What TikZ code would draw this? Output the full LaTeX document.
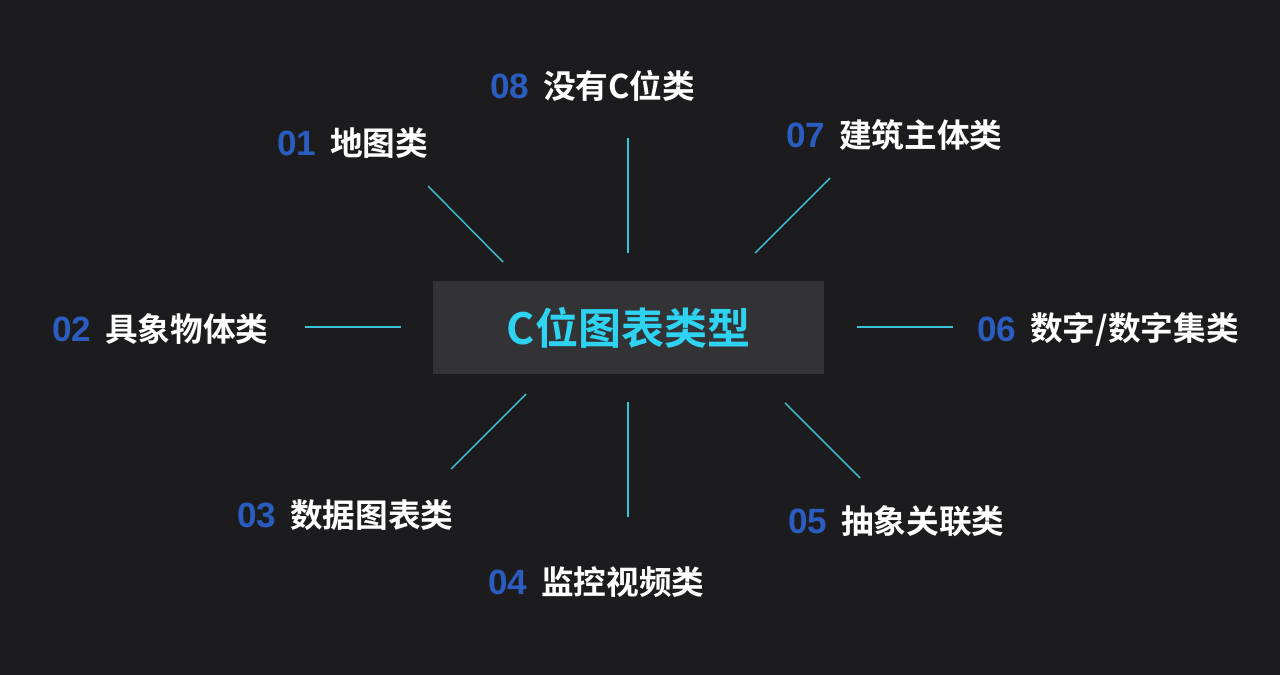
\documentclass[tikz,border=0pt]{standalone}
\usepackage{fontspec}
\setmainfont{Noto Sans CJK SC}[BoldFont={* Bold}]
\newfontfamily\numfont{Liberation Sans}
\usetikzlibrary{positioning}
\definecolor{bgdark}{HTML}{1C1C1E}
\definecolor{boxgray}{HTML}{333336}
\definecolor{titlecyan}{HTML}{2FD3F2}
\definecolor{numblue}{HTML}{2A5DBF}
\definecolor{spokecyan}{HTML}{3CC3D8}
\tikzset{
  numlabel/.style={anchor=west, inner sep=0pt, text=numblue, font=\numfont\bfseries\fontsize{20}{22}\selectfont},
  catlabel/.style={right=0.26cm of #1, inner sep=0pt, text=white, font=\bfseries\fontsize{18.6}{20}\selectfont},
  spoke/.style={draw=spokecyan, line width=0.8pt}
}
\begin{document}
\begin{tikzpicture}[x=0.02cm,y=-0.02cm]
\fill[bgdark] (0,0) rectangle (1280,675);
\useasboundingbox (0,0) rectangle (1280,675);
\node[fill=boxgray, minimum width=7.82cm, minimum height=1.86cm, inner sep=0pt,
  text=titlecyan, font=\bfseries\fontsize{24.5}{26}\selectfont] (title) at (628.5,327.5) {C位图表类型};
% labels
\node[numlabel] (n01) at (277,143) {01};
\node[catlabel=n01] (t01) {地图类};
\node[numlabel] (n08) at (490,86) {08};
\node[catlabel=n08] (t08) {没有C位类};
\node[numlabel] (n07) at (786,135) {07};
\node[catlabel=n07] (t07) {建筑主体类};
\node[numlabel] (n02) at (52,329) {02};
\node[catlabel=n02] (t02) {具象物体类};
\node[numlabel] (n06) at (977,329) {06};
\node[catlabel=n06] (t06) {数字/数字集类};
\node[numlabel] (n03) at (237,515) {03};
\node[catlabel=n03] (t03) {数据图表类};
\node[numlabel] (n04) at (488,582) {04};
\node[catlabel=n04] (t04) {监控视频类};
\node[numlabel] (n05) at (788,521) {05};
\node[catlabel=n05] (t05) {抽象关联类};
% spokes
\coordinate (s01a) at (428,186); \coordinate (s01b) at (503,262);
\coordinate (s08a) at (628,138); \coordinate (s08b) at (628,253);
\coordinate (s07a) at (830,178); \coordinate (s07b) at (755,253);
\coordinate (s02a) at (305,327); \coordinate (s02b) at (401,327);
\coordinate (s06a) at (857,327); \coordinate (s06b) at (953,327);
\coordinate (s03a) at (526,394); \coordinate (s03b) at (451,469);
\coordinate (s04a) at (628,402); \coordinate (s04b) at (628,517);
\coordinate (s05a) at (785,403); \coordinate (s05b) at (860,478);
\draw[spoke] (s01a) -- (s01b);
\draw[spoke] (s08a) -- (s08b);
\draw[spoke] (s07a) -- (s07b);
\draw[spoke] (s02a) -- (s02b);
\draw[spoke] (s06a) -- (s06b);
\draw[spoke] (s03a) -- (s03b);
\draw[spoke] (s04a) -- (s04b);
\draw[spoke] (s05a) -- (s05b);
\end{tikzpicture}
\end{document}
